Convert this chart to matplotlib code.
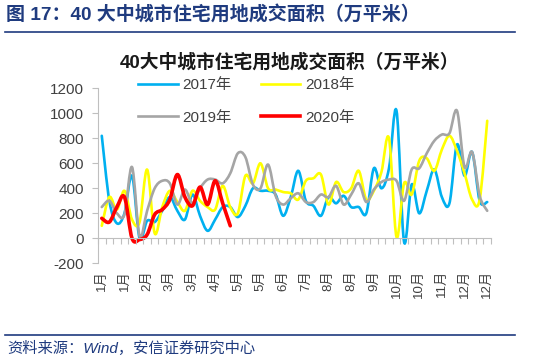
"""
40 city residential land transaction area, weekly, 2017-2020.
"""
import numpy as np
import matplotlib
matplotlib.use('Agg')
import matplotlib.pyplot as plt
from matplotlib.path import Path
from matplotlib.patches import PathPatch
from matplotlib.lines import Line2D

plt.rcParams['font.family'] = ['Liberation Sans', 'Noto Sans CJK SC']
plt.rcParams['axes.unicode_minus'] = False

# weekly values (10k m2)
weeks = list(range(52))
y2017 = [820, 300, 120, 200, 500, 0, 140, 130, 220, 330, 220, 150, 350, 180, 60, 150,
         250, 250, 170, 260, 400, 380, 380, 350, 180, 330, 540, 300, 260, 180, 330, 280,
         340, 250, 250, 200, 560, 400, 560, 1020, -30, 430, 200, 380, 550, 330, 280, 750,
         500, 690, 300, 290]
y2018 = [100, 330, 230, 380, 150, 130, 550, 40, 250, 380, 290, 220, 380, 300, 250, 230,
         420, 250, 200, 500, 440, 600, 400, 390, 370, 360, 310, 460, 480, 510, 270, 450,
         370, 400, 540, 310, 380, 530, 800, 10, 440, 350, 620, 640, 540, 710, 820, 700,
         520, 310, 310, 940]
y2019 = [250, 300, 200, 190, 570, 20, 220, 400, 460, 440, 270, 390, 280, 400, 470, 470,
         440, 520, 680, 650, 430, 400, 590, 340, 270, 320, 360, 290, 290, 350, 330, 420,
         270, 350, 440, 290, 390, 450, 470, 460, 300, 550, 560, 680, 780, 830, 840, 1020,
         570, 690, 340, 220]
y2020 = [160, 130, 250, 330, 0, -10, 30, 190, 230, 310, 510, 330, 260, 410, 270, 460,
         280, 100]

series_names = ['2017年', '2018年', '2019年', '2020年']
series_colors = ['#00B0F0', '#FFFF00', '#A5A5A5', '#FF0000']
series_widths = [1.9, 1.9, 1.9, 2.6]

month_labels = ['1月', '1月', '2月', '3月', '3月', '4月', '5月', '5月', '6月', '7月',
                '8月', '8月', '9月', '10月', '10月', '11月', '12月', '12月']
yticks = list(range(-200, 1201, 200))

NAVY = '#1f3b7f'
TEXT = '#404040'


def smoothPath(xs, ys):
    # excel style smoothed line: cubic bezier through every point
    pts = np.column_stack([xs, ys]).astype(float)
    n = len(pts)
    verts = [pts[0]]
    codes = [Path.MOVETO]
    for i in range(n - 1):
        p0 = pts[max(i - 1, 0)]
        p1 = pts[i]
        p2 = pts[i + 1]
        p3 = pts[min(i + 2, n - 1)]
        verts += [p1 + (p2 - p0) / 6.0, p2 - (p3 - p1) / 6.0, p2]
        codes += [Path.CURVE4] * 3
    return Path(verts, codes)


def main():
    fig = plt.figure(figsize=(5.44, 3.58), dpi=100)
    ax = fig.add_axes([98 / 544, 94.7 / 358, 393 / 544, 175 / 358])

    data = [y2017, y2018, y2019, y2020]
    for vals, col, lw in zip(data, series_colors, series_widths):
        path = smoothPath(weeks[:len(vals)], vals)
        ax.add_patch(PathPatch(path, facecolor='none', edgecolor=col, lw=lw,
                               capstyle='round', joinstyle='round'))

    ax.set_xlim(-0.5, 51.5)
    ax.set_ylim(-200, 1200)
    ax.set_yticks(yticks)
    ax.tick_params(axis='y', length=4, color='#BFBFBF', labelsize=11,
                   labelcolor=TEXT, pad=6)

    for side in ['top', 'right']:
        ax.spines[side].set_visible(False)
    ax.spines['left'].set_color('#BFBFBF')
    ax.spines['bottom'].set_color('#BFBFBF')
    ax.spines['bottom'].set_position(('data', 0))

    # week boundary ticks on the zero line
    ax.set_xticks(np.arange(-0.5, 52, 1))
    ax.tick_params(axis='x', length=4, color='#BFBFBF', labelbottom=False)

    # month labels sit below the plot
    sec = ax.secondary_xaxis('bottom')
    sec.set_xticks(weeks[::3], month_labels)
    sec.spines['bottom'].set_visible(False)
    sec.tick_params(length=0, labelrotation=90, labelsize=9.5,
                    labelcolor=TEXT, pad=5)

    # legend fills column-wise, so reorder to read 2017 2018 / 2019 2020 by row
    handles = [Line2D([], [], color=c, lw=w) for c, w in zip(series_colors, series_widths)]
    order = [0, 2, 1, 3]
    fig.legend([handles[i] for i in order], [series_names[i] for i in order],
               ncol=2, loc='upper left',
               bbox_to_anchor=(138 / 544, 1 - 78.5 / 358), bbox_transform=fig.transFigure,
               frameon=False, fontsize=11, handlelength=2.6, handletextpad=0.3,
               columnspacing=1.9, labelspacing=1.2, borderpad=0, borderaxespad=0,
               labelcolor=TEXT)

    fig.text(289.5 / 544, 1 - 62 / 358, '40大中城市住宅用地成交面积（万平米）',
             ha='center', va='center', fontsize=13.5, fontweight='bold', color='#1a1a1a')

    # report frame: heading, rules and source
    fig.text(6 / 544, 1 - 15 / 358, '图 17：40 大中城市住宅用地成交面积（万平米）',
             ha='left', va='center', fontsize=13.7, fontweight='bold', color=NAVY)
    fig.add_artist(Line2D([5 / 544, 515 / 544], [1 - 32.3 / 358] * 2,
                          transform=fig.transFigure, color=NAVY, lw=1.2))
    fig.add_artist(Line2D([5 / 544, 515 / 544], [1 - 335 / 358] * 2,
                          transform=fig.transFigure, color=NAVY, lw=1.2))
    fig.text(7 / 544, 1 - 348.5 / 358, '资料来源：Wind，安信证券研究中心',
             ha='left', va='center', fontsize=11, style='italic', color=NAVY)

    fig.savefig('out.png', dpi=100)


if __name__ == '__main__':
    main()
